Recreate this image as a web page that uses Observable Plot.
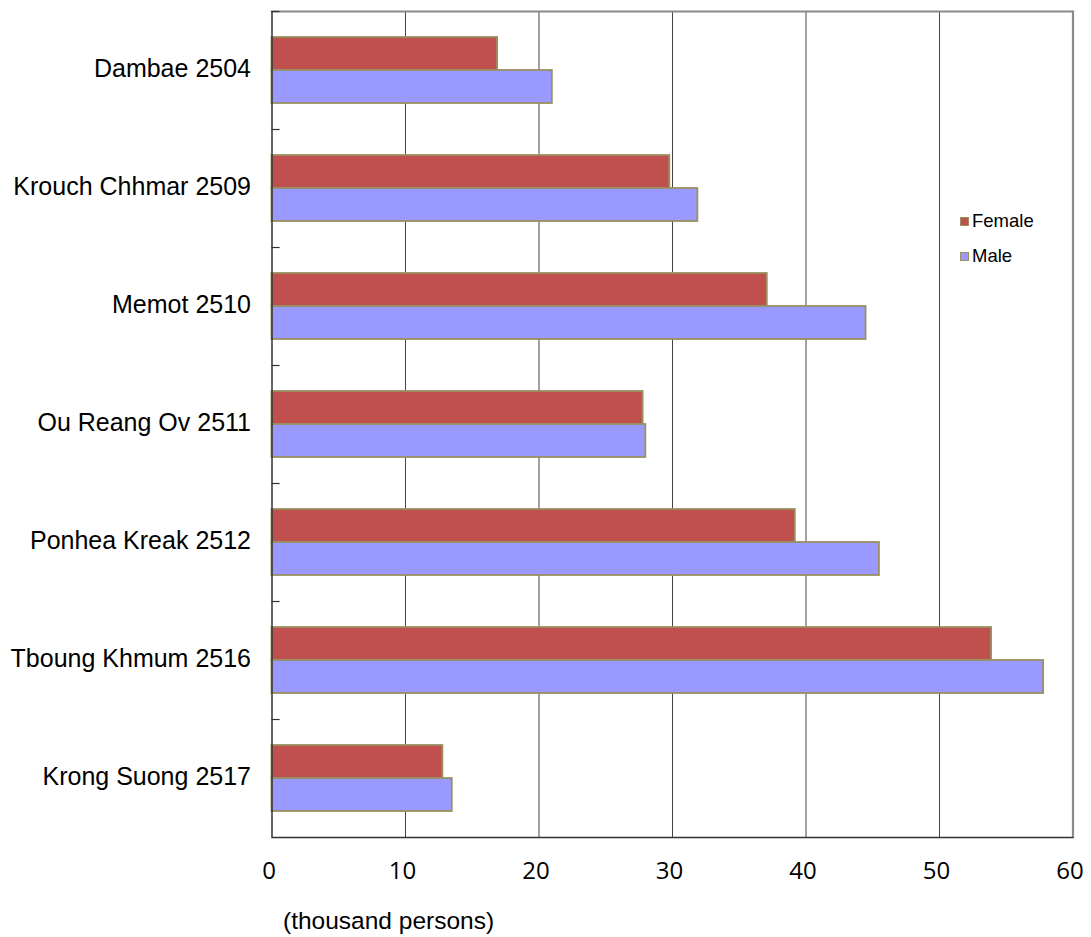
<!DOCTYPE html>
<html>
<head>
<meta charset="utf-8">
<script src="https://cdn.jsdelivr.net/npm/d3@7"></script>
<script src="https://cdn.jsdelivr.net/npm/@observablehq/plot@0.6"></script>
<style>
  html, body { margin: 0; padding: 0; background: #fff; }
  #wrap { position: relative; width: 1091px; height: 937px; overflow: hidden; }
  #wrap svg { position: absolute; left: 0; top: 0; }
  .caption { position: absolute; left: 283px; top: 907px; font: 24.5px "Liberation Sans", Arial, sans-serif; color: #000; white-space: nowrap; }
  .legend { position: absolute; left: 960px; font: 18.5px "Liberation Sans", Arial, sans-serif; color: #000; display: flex; align-items: center; white-space: nowrap; }
  .legend span.sw { display: inline-block; width: 7px; height: 7px; border: 1.5px solid #9a9060; margin-right: 3px; }
</style>
</head>
<body>
<div id="wrap"></div>
<script>
const categories = ["Dambae 2504", "Krouch Chhmar 2509", "Memot 2510", "Ou Reang Ov 2511", "Ponhea Kreak 2512", "Tboung Khmum 2516", "Krong Suong 2517"];
const series = ["Female", "Male"];
const female = [16.9, 29.8, 37.1, 27.8, 39.2, 53.9, 12.8];
const male = [21.0, 31.9, 44.5, 28.0, 45.5, 57.8, 13.5];
const xTicks = [0, 10, 20, 30, 40, 50, 60];
const gridTicks = [10, 20, 30, 40, 50];
const colors = ["#c0504d", "#9999ff"];

const rows = [];
categories.forEach((c, i) => {
  rows.push({category: c, sex: "Female", value: female[i]});
  rows.push({category: c, sex: "Male", value: male[i]});
});

const W = 1091, H = 937, ML = 271.5, MR = 18.5, MT = 8, MB = 97;
const plotW = W - ML - MR;

const chart = Plot.plot({
  width: W,
  height: H,
  marginLeft: ML,
  marginRight: MR,
  marginTop: MT,
  marginBottom: MB,
  x: {domain: [0, 60], axis: null},
  y: {domain: series, paddingInner: 0, paddingOuter: 0.75, axis: null},
  fy: {domain: categories, padding: 0, axis: null},
  color: {domain: series, range: colors},
  marks: [
    Plot.gridX(gridTicks, {stroke: "#444", strokeOpacity: 1, strokeWidth: 1}),
    Plot.barX(rows, {x: "value", y: "sex", fy: "category", fill: "sex", stroke: "#9a9060", strokeWidth: 1.8}),
    Plot.ruleX([60], {stroke: "#8a8a8a", strokeWidth: 2.2}),
    Plot.frame({anchor: "top", facetAnchor: "top", stroke: "#8a8a8a", strokeWidth: 2.2}),
    Plot.frame({anchor: "top", insetRight: plotW - 7, stroke: "#333", strokeWidth: 1.2}),
    Plot.frame({anchor: "bottom", facetAnchor: "bottom", stroke: "#333", strokeWidth: 1.5}),
    Plot.ruleX([0], {stroke: "#333", strokeWidth: 1.5}),
    Plot.axisFy({anchor: "left", tickSize: 0, tickPadding: 21, label: null, fontSize: 25, fontFamily: "Liberation Sans, Arial, sans-serif", fill: "#000", dy: -2}),
    Plot.axisX(xTicks, {anchor: "bottom", tickSize: 0, tickPadding: 24, label: null, fontSize: 24, fontFamily: "Open Sans, sans-serif", fill: "#000", dx: -3})
  ]
});

const wrap = document.getElementById("wrap");
wrap.appendChild(chart);

series.forEach((s, i) => {
  const d = document.createElement("div");
  d.className = "legend";
  d.style.top = (i === 0 ? 208 : 243) + "px";
  d.style.height = "26px";
  d.innerHTML = `<span class="sw" style="background:${colors[i]}"></span>${s}`;
  wrap.appendChild(d);
});

const cap = document.createElement("div");
cap.className = "caption";
cap.textContent = "(thousand persons)";
wrap.appendChild(cap);
</script>
</body>
</html>
